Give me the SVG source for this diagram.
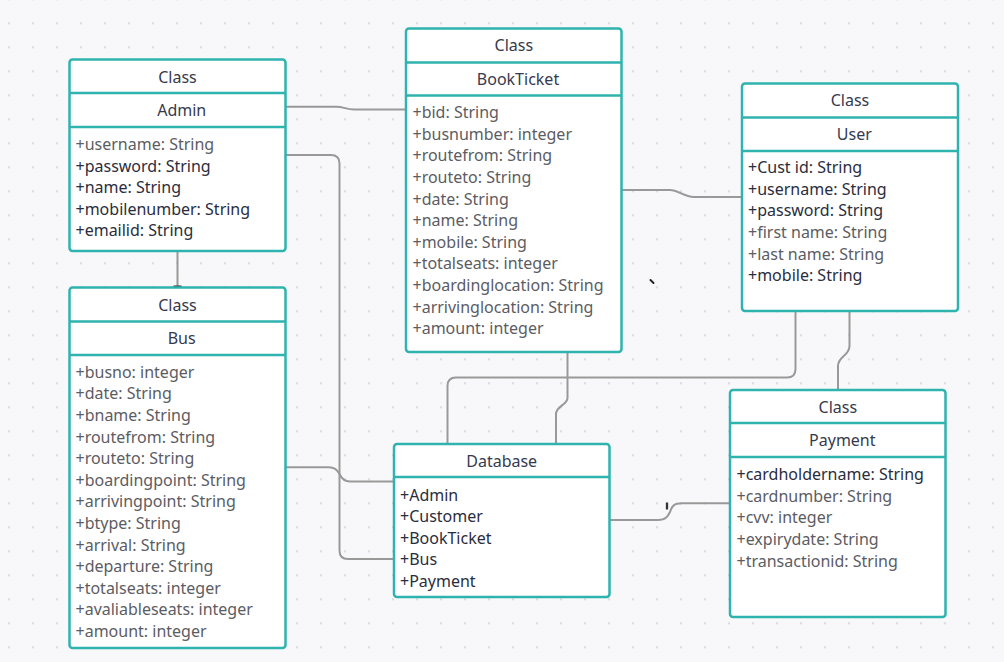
<svg xmlns="http://www.w3.org/2000/svg" width="1004" height="662" viewBox="0 0 1004 662">
<defs>
<pattern id="dots" x="-3" y="11.3" width="24" height="24" patternUnits="userSpaceOnUse">
<circle cx="12" cy="12" r="1.3" fill="#dcdce1"/>
</pattern>
<style>
.box{fill:#ffffff;stroke:#2fb3ae;stroke-width:2.5}
.div{stroke:#2fb3ae;stroke-width:2.5;fill:none}
.hd{font-family:"Noto Sans","Open Sans",sans-serif;font-size:16px;fill:#363a4e;text-anchor:middle}
.at{font-family:"Noto Sans","Open Sans",sans-serif;font-size:16px;fill:#2a2d3d}
.g{fill:#5c5c63}
.cn path{fill:none;stroke:#999999;stroke-width:2}
</style>
</defs>
<rect width="1004" height="662" fill="#f8f8fa"/>
<rect width="1004" height="662" fill="url(#dots)"/>

<g class="cn" id="connectors">
<path d="M286 106.7 H336 C344 106.7 346 109.5 354 109.5 H406"/>
<path d="M286 155 H331 Q339.5 155 339.5 163.5 V550.5 Q339.5 559 348 559 H394"/>
<path d="M286 467.3 H329 Q336 467.3 339.5 474 Q343 481.5 350 481.5 H394"/>
<path d="M177.5 251 V287"/>
<path d="M622 190 H670 C678 190 684 197 694 197 H742"/>
<path d="M567.5 352 V398 C567.5 405 556 406 556 414 V444"/>
<path d="M795.5 311 V369 Q795.5 377.5 787 377.5 H456 Q447.5 377.5 447.5 386 V444"/>
<path d="M849.5 311 V346 C849.5 356 838 356 838 366 V390"/>
<path d="M609.5 520 H658 C666 520 668 516 670 512 C672 506 674 503.3 682 503.3 H730"/>
<rect x="173.5" y="285.5" width="8" height="3" fill="#333333"/>
<path d="M667 502.5 V509.5" style="stroke:#333333;stroke-width:2.3"/>
</g>

<g id="admin">
<rect class="box" x="69.5" y="59.5" width="216" height="191.5" rx="3"/>
<path class="div" d="M69.5 93 H285.5 M69.5 127 H285.5"/>
<text class="hd" x="177.5" y="82.5">Class</text>
<text class="hd" x="181.7" y="115.7">Admin</text>
<text class="at g" x="75.5" y="150">+username: String</text>
<text class="at" x="75.5" y="171.5">+password: String</text>
<text class="at" x="75.5" y="193">+name: String</text>
<text class="at" x="75.5" y="214.5">+mobilenumber: String</text>
<text class="at" x="75.5" y="236">+emailid: String</text>
</g>

<g id="bookticket">
<rect class="box" x="406" y="28.5" width="215.5" height="323.5" rx="3"/>
<path class="div" d="M406 62.5 H621.5 M406 95.5 H621.5"/>
<text class="hd" x="513.8" y="50.7">Class</text>
<text class="hd" x="518" y="84.7">BookTicket</text>
<g class="at g">
<text x="412.5" y="118.2">+bid: String</text>
<text x="412.5" y="139.8">+busnumber: integer</text>
<text x="412.5" y="161.4">+routefrom: String</text>
<text x="412.5" y="183">+routeto: String</text>
<text x="412.5" y="204.6">+date: String</text>
<text x="412.5" y="226.2">+name: String</text>
<text x="412.5" y="247.8">+mobile: String</text>
<text x="412.5" y="269.4">+totalseats: integer</text>
<text x="412.5" y="291">+boardinglocation: String</text>
<text x="412.5" y="312.6">+arrivinglocation: String</text>
<text x="412.5" y="334.2">+amount: integer</text>
</g>
</g>

<path d="M650.5 280 L653.5 283" stroke="#222222" stroke-width="2" stroke-linecap="round"/>

<g id="user">
<rect class="box" x="742" y="83.5" width="216" height="227.5" rx="3"/>
<path class="div" d="M742 117.5 H958 M742 151 H958"/>
<text class="hd" x="850" y="106.4">Class</text>
<text class="hd" x="854.3" y="140">User</text>
<text class="at" x="748" y="173.2">+Cust id: String</text>
<text class="at" x="748" y="194.8">+username: String</text>
<text class="at" x="748" y="216.4">+password: String</text>
<text class="at g" x="748" y="238">+first name: String</text>
<text class="at g" x="748" y="259.6">+last name: String</text>
<text class="at" x="748" y="281.2">+mobile: String</text>
</g>

<g id="bus">
<rect class="box" x="69.5" y="287.5" width="216" height="360.5" rx="3"/>
<path class="div" d="M69.5 321.5 H285.5 M69.5 355 H285.5"/>
<text class="hd" x="177.5" y="310.7">Class</text>
<text class="hd" x="181.7" y="344">Bus</text>
<g class="at g">
<text x="75.5" y="377.8">+busno: integer</text>
<text x="75.5" y="399.4">+date: String</text>
<text x="75.5" y="421">+bname: String</text>
<text x="75.5" y="442.6">+routefrom: String</text>
<text x="75.5" y="464.2">+routeto: String</text>
<text x="75.5" y="485.8">+boardingpoint: String</text>
<text x="75.5" y="507.4">+arrivingpoint: String</text>
<text x="75.5" y="529">+btype: String</text>
<text x="75.5" y="550.6">+arrival: String</text>
<text x="75.5" y="572.2">+departure: String</text>
<text x="75.5" y="593.8">+totalseats: integer</text>
<text x="75.5" y="615.4">+avaliableseats: integer</text>
<text x="75.5" y="637">+amount: integer</text>
</g>
</g>

<g id="database">
<rect class="box" x="394" y="444" width="215.5" height="153" rx="3"/>
<path class="div" d="M394 477 H609.5"/>
<text class="hd" x="501.7" y="466.7">Database</text>
<text class="at" x="400" y="500.5">+Admin</text>
<text class="at" x="400" y="522">+Customer</text>
<text class="at" x="400" y="543.5">+BookTicket</text>
<text class="at" x="400" y="565">+Bus</text>
<text class="at" x="400" y="586.5">+Payment</text>
</g>

<g id="payment">
<rect class="box" x="730" y="390" width="215.5" height="227" rx="3"/>
<path class="div" d="M730 423 H945.5 M730 457 H945.5"/>
<text class="hd" x="837.8" y="413">Class</text>
<text class="hd" x="842.3" y="446.4">Payment</text>
<text class="at" x="736.5" y="479.8">+cardholdername: String</text>
<text class="at g" x="736.5" y="501.5">+cardnumber: String</text>
<text class="at g" x="736.5" y="523.2">+cvv: integer</text>
<text class="at g" x="736.5" y="544.9">+expirydate: String</text>
<text class="at g" x="736.5" y="566.6">+transactionid: String</text>
</g>
</svg>
